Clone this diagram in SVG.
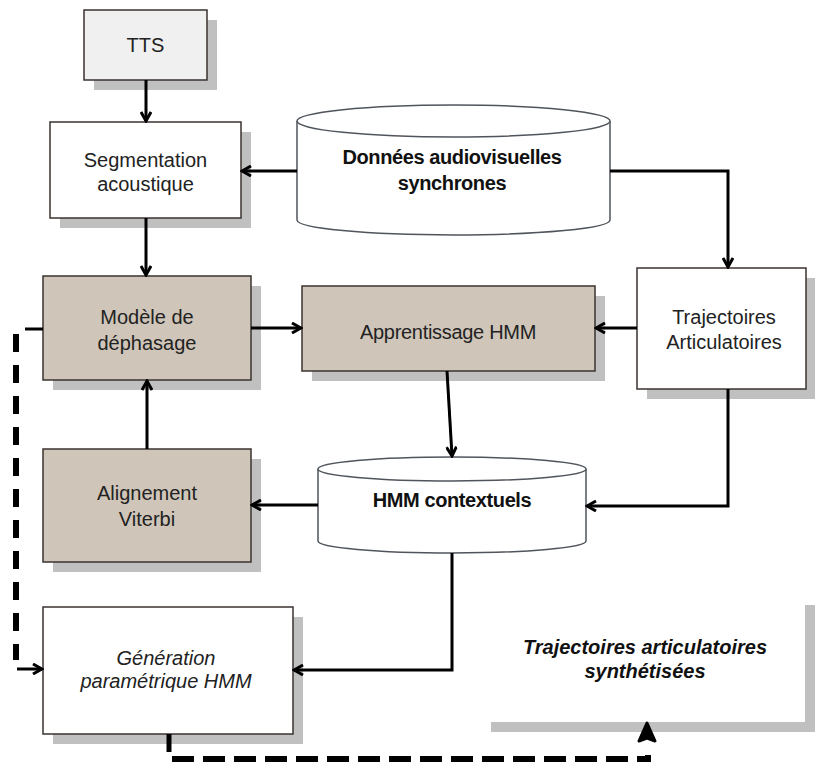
<svg xmlns="http://www.w3.org/2000/svg" width="815" height="763" viewBox="0 0 815 763">
<style>
  .shadow { fill: #c0c0c0; }
  .box { stroke: #3a3330; stroke-width: 1.5; }
  .white { fill: #ffffff; }
  .light { fill: #f0f0f0; }
  .beige { fill: #cfc6b9; }
  .cyl { fill: #ffffff; stroke: #50555c; stroke-width: 1.5; }
  .t { font-family: "Liberation Sans", Arial, sans-serif; font-size: 20px; fill: #222; text-anchor: middle; }
  .b { font-weight: bold; fill: #111; }
  .i { font-style: italic; }
  .conn { fill: none; stroke: #000; stroke-width: 3; }
  .dash { fill: none; stroke: #000; stroke-width: 6; }
</style>
<defs>
  <marker id="arr" viewBox="0 0 12 12" refX="10" refY="6" markerWidth="12" markerHeight="12" markerUnits="userSpaceOnUse" orient="auto">
    <path d="M1,1 L10,6 L1,11" fill="none" stroke="#000" stroke-width="3"/>
  </marker>
</defs>

<g id="tts">
  <rect class="shadow" x="94" y="20" width="123" height="70"/>
  <rect class="box light" x="84" y="10" width="123" height="70"/>
  <text class="t" x="145.5" y="52">TTS</text>
</g>

<g id="segmentation">
  <rect class="shadow" x="60" y="132" width="191" height="96"/>
  <rect class="box white" x="50" y="122" width="191" height="96"/>
  <text class="t" x="145.5" y="167">Segmentation</text>
  <text class="t" x="145.5" y="191">acoustique</text>
</g>

<g id="donnees">
  <path class="cyl" d="M297,121 V220 A156.5,15 0 0 0 610,220 V121"/>
  <ellipse class="cyl" cx="453.5" cy="121" rx="156.5" ry="16"/>
  <text class="t b" x="452" y="164" letter-spacing="-0.4">Données audiovisuelles</text>
  <text class="t b" x="452" y="190" letter-spacing="-0.4">synchrones</text>
</g>

<g id="trajectoires">
  <rect class="shadow" x="647" y="278" width="169" height="121"/>
  <rect class="box white" x="637" y="268" width="169" height="121"/>
  <text class="t" x="724" y="324">Trajectoires</text>
  <text class="t" x="724" y="349">Articulatoires</text>
</g>

<g id="modele">
  <rect class="shadow" x="53" y="286" width="208" height="104"/>
  <rect class="box beige" x="43" y="276" width="208" height="104"/>
  <text class="t" x="147" y="324">Modèle de</text>
  <text class="t" x="147" y="350">déphasage</text>
</g>

<g id="apprentissage">
  <rect class="shadow" x="312" y="296" width="293" height="85"/>
  <rect class="box beige" x="302" y="286" width="293" height="85"/>
  <text class="t" x="448" y="339" letter-spacing="-0.3">Apprentissage HMM</text>
</g>

<g id="hmm">
  <path class="cyl" d="M318,469 V541 A134,12 0 0 0 586,541 V469"/>
  <ellipse class="cyl" cx="452" cy="469" rx="134" ry="12"/>
  <text class="t b" x="452" y="507" letter-spacing="-0.4">HMM contextuels</text>
</g>

<g id="alignement">
  <rect class="shadow" x="53" y="459" width="208" height="113"/>
  <rect class="box beige" x="43" y="449" width="208" height="113"/>
  <text class="t" x="147" y="500">Alignement</text>
  <text class="t" x="147" y="526">Viterbi</text>
</g>

<g id="generation">
  <rect class="shadow" x="53" y="617" width="250" height="127"/>
  <rect class="box white" x="43" y="607" width="250" height="127"/>
  <text class="t i" x="166" y="665">Génération</text>
  <text class="t i" x="166" y="688">paramétrique HMM</text>
</g>

<g id="synthetisees">
  <rect class="shadow" x="491" y="605" width="324" height="127"/>
  <rect class="white" x="481" y="595" width="324" height="127"/>
  <text class="t b i" x="645" y="654">Trajectoires articulatoires</text>
  <text class="t b i" x="645" y="678">synthétisées</text>
</g>

<g id="connectors">
  <path class="conn" d="M146,80 V121" marker-end="url(#arr)"/>
  <path class="conn" d="M297,171 H242" marker-end="url(#arr)"/>
  <path class="conn" d="M610,171 H728 V267" marker-end="url(#arr)"/>
  <path class="conn" d="M146,218 V275" marker-end="url(#arr)"/>
  <path class="conn" d="M251,328 H301" marker-end="url(#arr)"/>
  <path class="conn" d="M637,328 H596" marker-end="url(#arr)"/>
  <path class="conn" d="M447,371 L452,456" marker-end="url(#arr)"/>
  <path class="conn" d="M728,389 V506 H587" marker-end="url(#arr)"/>
  <path class="conn" d="M318,505 H252" marker-end="url(#arr)"/>
  <path class="conn" d="M147,449 V381" marker-end="url(#arr)"/>
  <path class="conn" d="M452,553 V670 H294" marker-end="url(#arr)"/>
  <path class="conn" d="M25,329 H43"/>
  <path class="dash" d="M16,334 V660" stroke-dasharray="18 13"/>
  <path class="conn" d="M17,669 H42" stroke-width="4" marker-end="url(#arr)"/>
  <path d="M169,734 V752" stroke="#000" stroke-width="5"/>
  <path class="dash" d="M172,759 H648 V755" stroke-dasharray="22 9"/>
  <path d="M647,723 L655,741 L647,738 L639,741 Z" fill="#000" stroke="#000" stroke-width="3" stroke-linejoin="round"/>
</g>
</svg>
